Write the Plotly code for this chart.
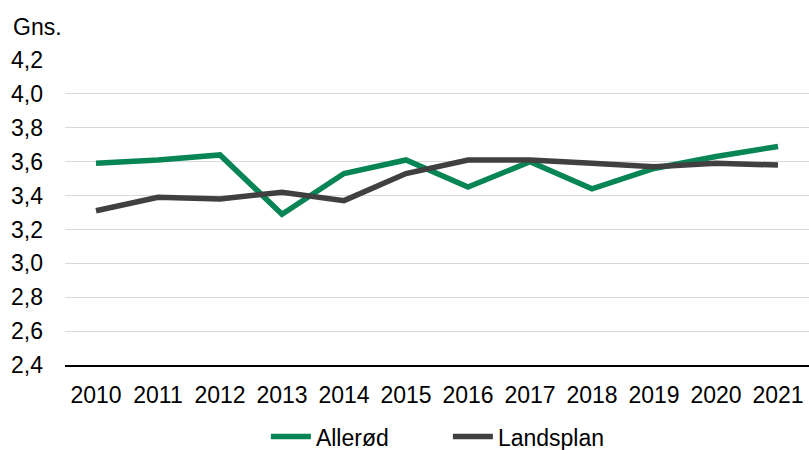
import plotly.graph_objects as go

years = ["2010", "2011", "2012", "2013", "2014", "2015", "2016", "2017", "2018", "2019", "2020", "2021"]
allerod = [3.59, 3.61, 3.64, 3.29, 3.53, 3.61, 3.45, 3.60, 3.44, 3.56, 3.63, 3.69]
landsplan = [3.31, 3.39, 3.38, 3.42, 3.37, 3.53, 3.61, 3.61, 3.59, 3.57, 3.59, 3.58]
yticks = [2.4, 2.6, 2.8, 3.0, 3.2, 3.4, 3.6, 3.8, 4.0, 4.2]
yticktext = [f"{v:.1f}".replace(".", ",") for v in yticks]

FONT = "Liberation Sans, Arial, sans-serif"
FS = 23

fig = go.Figure()
fig.add_trace(go.Scatter(x=years, y=allerod, name="Allerød", mode="lines",
                         line=dict(color="#078555", width=5.5)))
fig.add_trace(go.Scatter(x=years, y=landsplan, name="Landsplan", mode="lines",
                         line=dict(color="#404040", width=5.5)))

fig.update_layout(
    width=809, height=450,
    margin=dict(l=65, r=0, t=60, b=85, autoexpand=False),
    paper_bgcolor="white", plot_bgcolor="white",
    font=dict(family=FONT, size=FS, color="black"),
    showlegend=True,
    legend=dict(orientation="h", x=0.27, xanchor="left", y=-0.235, yanchor="middle",
                font=dict(size=FS), itemwidth=40, entrywidth=127),
    xaxis=dict(type="category", range=[-0.5, 11.5], showgrid=False,
               showline=True, linecolor="black", linewidth=1.5,
               ticks="", tickfont=dict(size=FS), ticklabelstandoff=9,
               automargin=False),
    yaxis=dict(range=[2.4, 4.2], tickvals=yticks, ticktext=yticktext,
               showgrid=True, gridcolor="#d9d9d9", gridwidth=1,
               zeroline=False, showline=False, ticks="",
               tickfont=dict(size=FS), ticklabelstandoff=21, automargin=False),
)
fig.add_annotation(text="Gns.", xref="paper", yref="paper", x=-54/744, y=1.108,
                   xanchor="left", yanchor="middle", showarrow=False,
                   font=dict(size=FS))

fig.write_html("out.html", config={"displayModeBar": False},
               post_script="document.body.style.margin='0';")
